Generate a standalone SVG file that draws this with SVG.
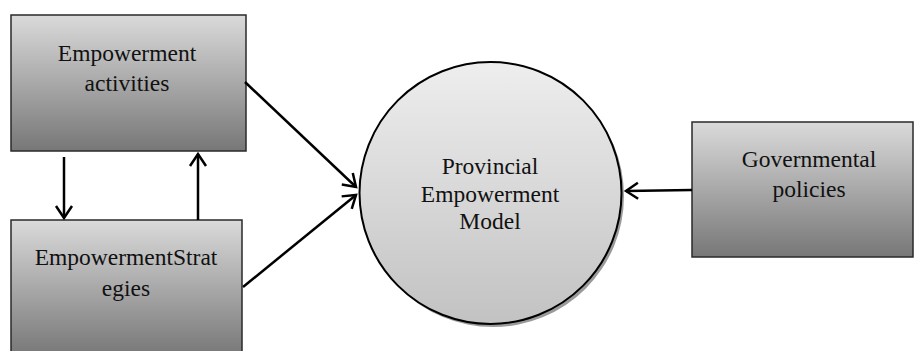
<svg xmlns="http://www.w3.org/2000/svg" width="914" height="351" viewBox="0 0 914 351">
<defs>
<linearGradient id="boxGrad" x1="0" y1="0" x2="0" y2="1">
<stop offset="0" stop-color="#dadada"/>
<stop offset="1" stop-color="#777777"/>
</linearGradient>
<linearGradient id="circGrad" x1="0" y1="0" x2="0" y2="1">
<stop offset="0" stop-color="#eeeeee"/>
<stop offset="1" stop-color="#c2c2c2"/>
</linearGradient>
<marker id="arr" markerUnits="userSpaceOnUse" markerWidth="30" markerHeight="30" viewBox="-15 -15 30 30" refX="0" refY="0" orient="auto">
<path d="M -12 -8 L 0 0 L -12 8" fill="none" stroke="#000" stroke-width="2.5" stroke-linejoin="miter"/>
</marker>
</defs>
<style>
.box { fill: url(#boxGrad); stroke: #2a2a2a; stroke-width: 1.5; }
.lbl { font-family: "Liberation Serif", "Times New Roman", serif; font-size: 23.5px; fill: #111; text-anchor: middle; }
.conn { stroke: #000; stroke-width: 2.5; fill: none; marker-end: url(#arr); }
</style>
<g id="empowerment-activities">
<rect class="box" x="11" y="15" width="235" height="136"/>
<text class="lbl" x="127" y="61">Empowerment</text>
<text class="lbl" x="127" y="91">activities</text>
</g>
<g id="empowerment-strategies">
<rect class="box" x="11" y="220" width="231" height="136"/>
<text class="lbl" x="126" y="265">EmpowermentStrat</text>
<text class="lbl" x="126" y="296">egies</text>
</g>
<g id="provincial-model">
<circle cx="493" cy="196" r="131" fill="#9a9a9a"/>
<circle cx="490.5" cy="193" r="131" fill="url(#circGrad)" stroke="#000" stroke-width="2"/>
<text class="lbl" x="490" y="174">Provincial</text>
<text class="lbl" x="490" y="202">Empowerment</text>
<text class="lbl" x="490" y="229">Model</text>
</g>
<g id="governmental-policies">
<rect class="box" x="692" y="122" width="221" height="135"/>
<text class="lbl" x="809" y="167">Governmental</text>
<text class="lbl" x="809" y="197">policies</text>
</g>
<g id="connectors">
<line class="conn" x1="64" y1="157" x2="64" y2="218"/>
<line class="conn" x1="198" y1="220" x2="198" y2="154"/>
<line class="conn" x1="245" y1="82" x2="356" y2="187"/>
<line class="conn" x1="243" y1="287" x2="356" y2="195"/>
<line class="conn" x1="692" y1="190" x2="626" y2="191"/>
</g>
</svg>
